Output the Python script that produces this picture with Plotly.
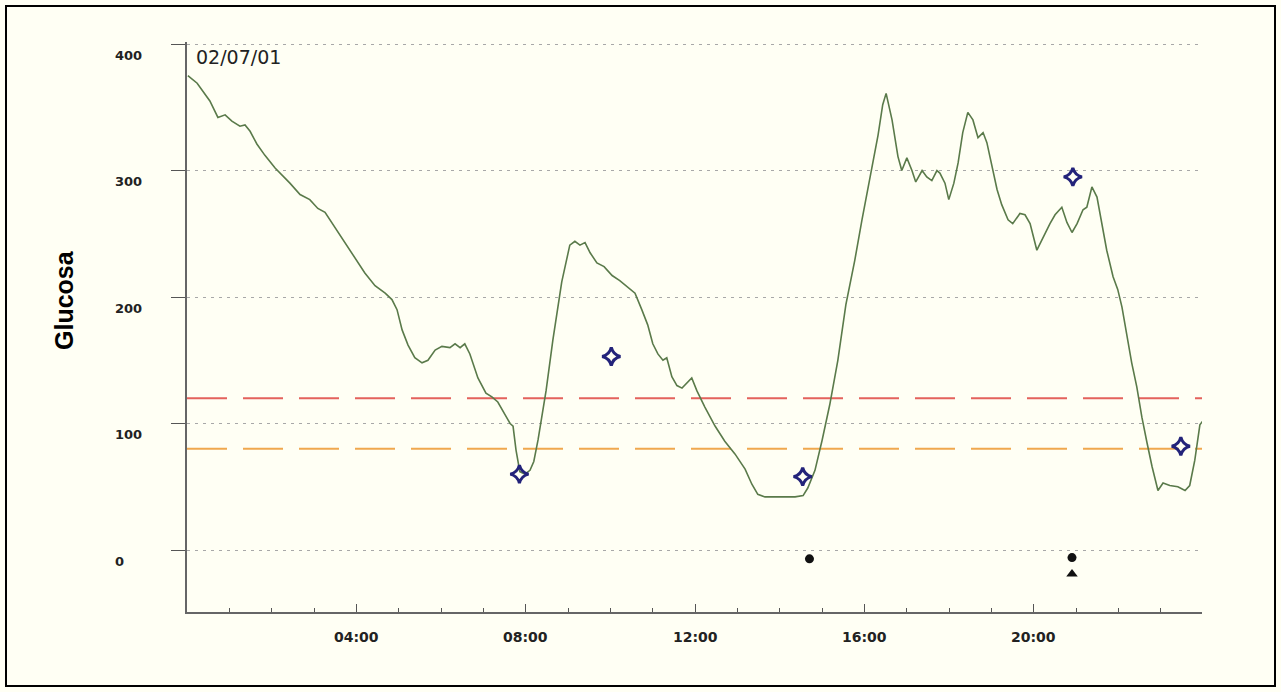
import plotly.graph_objects as go

# ---- data ----
cgm_hours = [0.02, 0.24, 0.54, 0.73, 0.90, 1.06, 1.25, 1.37, 1.49, 1.65, 1.84, 2.08, 2.43, 2.67, 2.90,
             3.09, 3.26, 3.49, 3.73, 4.01, 4.20, 4.44, 4.68, 4.84, 4.96, 5.08, 5.22, 5.38, 5.55, 5.69,
             5.86, 6.02, 6.21, 6.33, 6.45, 6.56, 6.68, 6.87, 7.06, 7.20, 7.34, 7.51, 7.63, 7.70, 7.77,
             7.86, 7.98, 8.10, 8.19, 8.29, 8.48, 8.64, 8.85, 9.04, 9.16, 9.28, 9.40, 9.52, 9.68, 9.85,
             10.04, 10.22, 10.39, 10.58, 10.74, 10.88, 11.00, 11.12, 11.24, 11.33, 11.45, 11.57, 11.69,
             11.83, 11.92, 12.04, 12.23, 12.47, 12.70, 12.94, 13.18, 13.34, 13.48, 13.65, 14.00, 14.36,
             14.55, 14.66, 14.83, 15.00, 15.18, 15.37, 15.56, 15.77, 15.94, 16.13, 16.32, 16.43, 16.51,
             16.65, 16.79, 16.88, 17.00, 17.12, 17.21, 17.36, 17.47, 17.59, 17.71, 17.78, 17.90, 17.99,
             18.11, 18.21, 18.32, 18.44, 18.56, 18.68, 18.80, 18.89, 19.01, 19.13, 19.24, 19.39, 19.50,
             19.67, 19.79, 19.91, 20.07, 20.21, 20.38, 20.50, 20.66, 20.78, 20.90, 21.02, 21.16, 21.25,
             21.37, 21.49, 21.61, 21.72, 21.87, 21.98, 22.08, 22.20, 22.31, 22.43, 22.55, 22.67, 22.79,
             22.93, 23.05, 23.21, 23.40, 23.57, 23.68, 23.80, 23.92, 23.99]
cgm_glucose = [375, 369, 355, 342, 344, 339, 335, 336, 331, 321, 312, 302, 290, 281, 277,
               270, 267, 255, 243, 228, 219, 209, 203, 198, 190, 174, 162, 152, 148, 150,
               158, 161, 160, 163, 160, 163, 155, 136, 124, 121, 117, 107, 100, 98, 79,
               62, 60, 63, 70, 87, 126, 166, 212, 241, 244, 241, 243, 235, 227, 224,
               217, 213, 208, 203, 190, 178, 163, 155, 150, 152, 137, 130, 128,
               133, 136, 126, 113, 98, 86, 76, 64, 52, 44, 42, 42, 42,
               43, 49, 63, 87, 115, 150, 194, 229, 261, 296, 328, 352, 361,
               340, 311, 300, 310, 300, 291, 300, 295, 292, 300, 298, 290, 277,
               290, 306, 330, 346, 340, 326, 330, 322, 303, 285, 273, 261, 258,
               266, 265, 258, 237, 247, 258, 265, 271, 259, 251, 258, 269, 271,
               287, 279, 258, 237, 216, 206, 192, 168, 148, 129, 105, 85, 66,
               47, 53, 51, 50, 47, 51, 71, 99, 102]

meter_hours = [7.85, 10.02, 14.54, 20.92, 23.47]
meter_glucose = [60, 153, 58, 295, 82]

event_dot_hours = [14.70, 20.90]
event_dot_values = [-7, -6]
event_tri_hours = [20.90]
event_tri_values = [-19]

upper_limit = 120
lower_limit = 80

y_tick_vals = [0, 100, 200, 300, 400]
y_tick_text = ["0", "100", "200", "300", "400"]
x_tick_vals = [4, 8, 12, 16, 20]
x_tick_text = ["04:00", "08:00", "12:00", "16:00", "20:00"]
date_label = "02/07/01"
y_title = "Glucosa"

# ---- figure ----
BG = "#fffff4"
fig = go.Figure()

fig.add_trace(go.Scatter(x=[0, 24], y=[upper_limit, upper_limit], mode="lines",
                         line=dict(color="#e4625c", width=2, dash="40px,16px"),
                         hoverinfo="skip", showlegend=False))
fig.add_trace(go.Scatter(x=[0, 24], y=[lower_limit, lower_limit], mode="lines",
                         line=dict(color="#f0a84e", width=2, dash="40px,16px"),
                         hoverinfo="skip", showlegend=False))

fig.add_trace(go.Scatter(x=cgm_hours, y=cgm_glucose, mode="lines",
                         line=dict(color="#5a7a4a", width=1.6), showlegend=False))

fig.add_trace(go.Scatter(x=meter_hours, y=meter_glucose, mode="markers",
                         marker=dict(symbol="star-diamond-open", size=13, color="#23237a",
                                     line=dict(color="#23237a", width=3)),
                         showlegend=False))

fig.add_trace(go.Scatter(x=event_dot_hours, y=event_dot_values, mode="markers",
                         marker=dict(symbol="circle", size=9, color="#111111"), showlegend=False))
fig.add_trace(go.Scatter(x=event_tri_hours, y=event_tri_values, mode="markers",
                         marker=dict(symbol="triangle-up", size=10, color="#111111"), showlegend=False))

W, H = 1281, 692
L, R, T, B = 187, 79, 42, 80
pw, ph = W - L - R, H - T - B

fig.update_layout(
    width=W, height=H,
    margin=dict(l=L, r=R, t=T, b=B),
    paper_bgcolor=BG, plot_bgcolor=BG,
    showlegend=False,
    xaxis=dict(range=[0, 23.97], showgrid=False, zeroline=False,
               showline=True, linecolor="#666666", linewidth=2,
               tickmode="linear", tick0=0, dtick=4, ticks="inside", ticklen=8,
               tickcolor="#555555", tickwidth=1, showticklabels=False,
               minor=dict(tickmode="linear", tick0=0, dtick=1, ticks="inside", ticklen=4,
                          tickcolor="#555555", tickwidth=1)),
    yaxis=dict(range=[-49, 401.6], showgrid=True, gridcolor="#a8a8a8", gridwidth=1,
               griddash="3px,5px", zeroline=False,
               showline=True, linecolor="#666666", linewidth=2,
               tickvals=y_tick_vals, ticks="outside", ticklen=14, tickcolor="#555555",
               showticklabels=False),
)

annotations = []
for v, t in zip(y_tick_vals, y_tick_text):
    annotations.append(dict(x=(113 - L) / pw, xref="paper", y=v, yref="y", text="<b>" + t + "</b>",
                            xanchor="left", yanchor="middle", yshift=-11, showarrow=False,
                            font=dict(family="DejaVu Sans", size=13, color="#222222")))
for v, t in zip(x_tick_vals, x_tick_text):
    annotations.append(dict(x=v, xref="x", y=-25 / ph, yref="paper", text="<b>" + t + "</b>",
                            xanchor="center", yanchor="middle", showarrow=False,
                            font=dict(family="DejaVu Sans", size=14, color="#222222")))
annotations.append(dict(x=7 / pw, xref="paper", y=(H - B - 57) / ph, yref="paper", text=date_label,
                        xanchor="left", yanchor="middle", showarrow=False,
                        font=dict(family="DejaVu Sans", size=19, color="#222222")))
annotations.append(dict(x=(64 - L) / pw, xref="paper", y=(H - B - 300) / ph, yref="paper",
                        text="<b>" + y_title + "</b>", textangle=-90,
                        xanchor="center", yanchor="middle", showarrow=False,
                        font=dict(family="Liberation Sans", size=25, color="#000000")))
fig.update_layout(annotations=annotations)

fig.add_shape(type="rect", xref="paper", yref="paper",
              x0=(6 - L) / pw, x1=(1275 - L) / pw,
              y0=-(686 - (H - B)) / ph, y1=1 + (T - 6) / ph,
              line=dict(color="#000000", width=2), fillcolor="rgba(0,0,0,0)", layer="below")

fig.write_html("out.html", config={"displayModeBar": False},
               post_script="document.body.style.margin='0';document.body.style.overflow='hidden';")
